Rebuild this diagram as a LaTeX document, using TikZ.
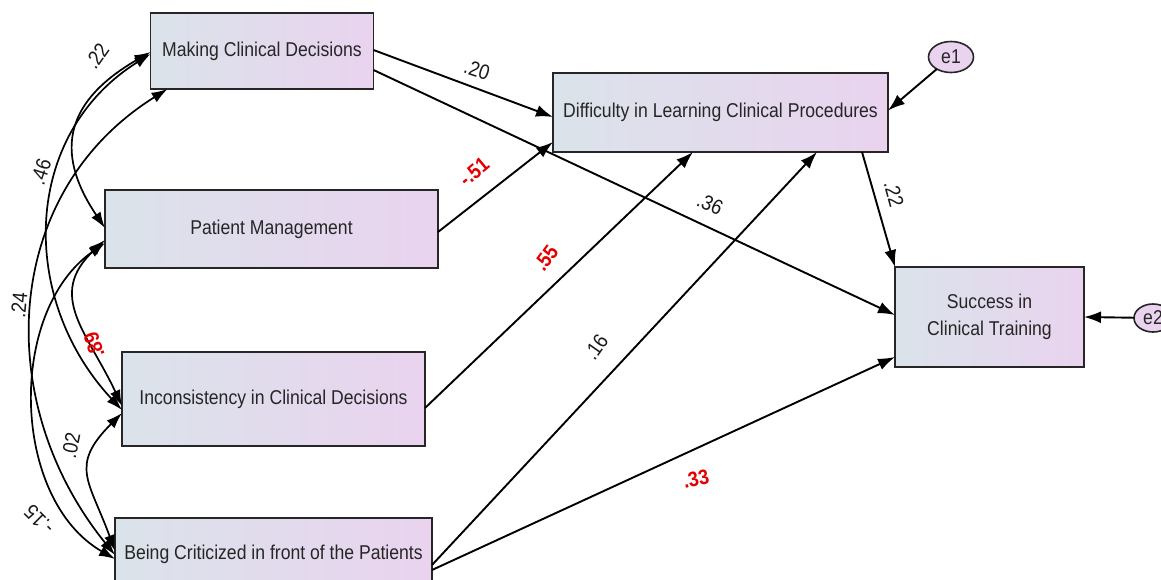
\documentclass[tikz,border=0pt]{standalone}
\usepackage{fontspec}
\setmainfont{Liberation Sans}[FakeStretch=0.88]
\usepackage{tikz}
\usetikzlibrary{arrows.meta}
\usetikzlibrary{shapes.geometric}
\definecolor{boxleft}{RGB}{219,227,234}
\definecolor{boxright}{RGB}{233,211,239}
\definecolor{pathred}{RGB}{228,0,0}

\begin{document}
\begin{tikzpicture}[x=1pt,y=-1pt]
  % some styles
  \tikzset{
    var/.style={
      rectangle,
      draw=black!85,
      line width=1.8pt,
      left color=boxleft,
      right color=boxright,
      inner sep=0pt,
      outer sep=0pt,
      align=center,
      text=black!85,
      font=\fontsize{20}{27}\selectfont
    }
  }
  \tikzset{err/.style={ellipse,draw=black!85,line width=1.6pt,fill=boxright,inner sep=0pt,outer sep=0pt,text=black!85,font=\fontsize{20}{22}\selectfont}}
  \tikzset{coef/.style={inner sep=1pt,text=black!90,font=\fontsize{21}{24}\selectfont}}
  \tikzset{coefred/.style={inner sep=1pt,text=pathred,font=\bfseries\fontsize{21}{24}\selectfont}}
  \tikzset{onehead/.style={-{Latex[length=17pt,width=12pt]},line width=1.9pt}}
  \tikzset{twohead/.style={{Latex[length=16pt,width=11pt]}-{Latex[length=16pt,width=11pt]},line width=1.7pt}}

\path[use as bounding box] (0,0) rectangle (1161,579);
\fill[white] (0,0) rectangle (1161,579);
\clip (0,0) rectangle (1161,579);

% observed variables
\node[var,minimum width=223pt,minimum height=76pt] (mcd) at (262,51) {Making Clinical Decisions};
\node[var,minimum width=333pt,minimum height=78pt] (pm) at (271.5,229) {Patient Management};
\node[var,minimum width=303pt,minimum height=94pt] (ic) at (273.5,399) {Inconsistency in Clinical Decisions};
\node[var,minimum width=317pt,minimum height=72pt] (bc) at (273.5,554) {Being Criticized in front of the Patients};
\node[var,minimum width=335pt,minimum height=79pt] (dlcp) at (720.5,112.5) {Difficulty in Learning Clinical Procedures};
\node[var,minimum width=189pt,minimum height=100pt] (sct) at (989.5,317) {Success in\\Clinical Training};
% errors
\node[err,minimum width=45pt,minimum height=31pt] (e1) at (951,57) {e1};
\node[err,minimum width=38pt,minimum height=28pt] (e2) at (1153,318) {e2};

% paths
\draw[onehead] ([yshift=1pt]mcd.east) -- ([yshift=-4.5pt]dlcp.west);
\draw[onehead] ([yshift=-19pt]mcd.east) -- ([yshift=2pt]sct.west);
\draw[onehead] ([yshift=-3pt]pm.east) -- ([yshift=-29.5pt]dlcp.west);
\draw[onehead] ([yshift=-9pt]ic.east) -- ([xshift=-27.5pt]dlcp.south);
\draw[onehead] ([yshift=-11pt]bc.east) -- ([xshift=96.5pt]dlcp.south);
\draw[onehead] ([yshift=-16pt]bc.east) -- ([yshift=-40pt]sct.west);
\draw[onehead] ([xshift=141.5pt]dlcp.south) -- (sct.north west);
\draw[onehead] (e1) -- ([yshift=2pt]dlcp.east);
\draw[onehead] (e2) -- (sct.east);

% covariances
\draw[twohead] ([yshift=-1pt]mcd.west) to[out=210,in=124,distance=95pt] ([yshift=1pt]pm.west);
\draw[twohead] ([yshift=-3pt]mcd.west) to[out=212,in=133,distance=152pt] ([yshift=-11pt]ic.west);
\draw[twohead] ([xshift=17pt]mcd.south west) to[out=212,in=129,distance=196pt] ([yshift=-1pt]bc.west);
\draw[twohead] ([yshift=-11pt]pm.west) to[out=223,in=115,distance=81pt] ([yshift=-7pt]ic.west);
\draw[twohead] ([yshift=-14pt]pm.west) to[out=215,in=150,distance=120pt] ([yshift=-5pt]bc.west);
\draw[twohead] ([yshift=-14pt]ic.west) to[out=225,in=110,distance=75pt] ([yshift=3pt]bc.west);

% coefficients
\foreach \n/\x/\y/\r/\t in {a/97/56/55/.22, b/41/172/72/.46, c/19/305/85/.24, d/71/446/79/.02, e/39/520/135/-.15,
                            f/477/70/-18/.20, g/710/204/-25/.36, h/596/347/55/.16, i/894/194/-75/.22}
    \node[coef,rotate=\r] (k\n) at (\x,\y) {\t};
\foreach \n/\x/\y/\r/\t in {a/94/345/108/.89, b/474/172/40/-.51, c/546/258/54/.55, d/696/479/12/.33}
    \node[coefred,rotate=\r] (r\n) at (\x,\y) {\t};

\end{tikzpicture}
\end{document}
